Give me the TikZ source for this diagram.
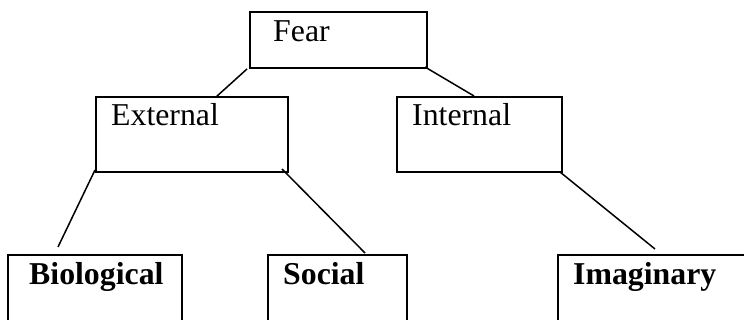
\documentclass[tikz,border=0pt]{standalone}
\usepackage{fontspec}
\setmainfont{Liberation Serif}
\usetikzlibrary{calc}
\tikzset{
  box/.style={draw=black, line width=2.2pt, fill=none, inner sep=0pt, outer sep=0pt, anchor=north west},
  lbl/.style={anchor=base west, inner sep=0pt, font=\fontsize{31.8}{36}\selectfont},
  conn/.style={draw=black, line width=1.5pt}
}
\begin{document}
\begin{tikzpicture}[x=1pt,y=-1pt]
\useasboundingbox (0,0) rectangle (744,320);
\fill[white] (0,0) rectangle (744,320);
\clip (0,0) rectangle (744,320);
% boxes
\node[box, minimum width=177pt, minimum height=56pt] (fear) at (250,12) {};
\node[box, minimum width=192pt, minimum height=75pt] (ext) at (96,97) {};
\node[box, minimum width=165pt, minimum height=75pt] (int) at (397,97) {};
\node[box, minimum width=174pt, minimum height=140pt] (bio) at (8,255) {};
\node[box, minimum width=139pt, minimum height=140pt] (soc) at (268,255) {};
\node[box, minimum width=220pt, minimum height=140pt] (ima) at (558,255) {};
% labels
\node[lbl] (tfear) at (273,42) {Fear};
\node[lbl] (text) at (111,126) {External};
\node[lbl] (tint) at (412,126) {Internal};
\node[lbl, font=\fontsize{31.8}{36}\selectfont\bfseries] (tbio) at (29,284) {Biological};
\node[lbl, font=\fontsize{31.8}{36}\selectfont\bfseries] (tsoc) at (283,284) {Social};
\node[lbl, font=\fontsize{31.8}{36}\selectfont\bfseries] (tima) at (573,284) {Imaginary};
% connectors
\draw[conn] ($(fear.south west)+(-3,1)$) -- ($(ext.north west)+(120,0)$);
\draw[conn] ($(fear.south east)+(-2,-1)$) -- ($(int.north west)+(77,-1)$);
\draw[conn] ($(ext.south west)+(-1,-2)$) -- ($(bio.north west)+(50,-8)$);
\draw[conn] ($(ext.south east)+(-6,-3)$) -- ($(soc.north west)+(97,-2)$);
\draw[conn] ($(int.south east)+(-2,0)$) -- ($(ima.north west)+(97,-6)$);
\end{tikzpicture}
\end{document}
